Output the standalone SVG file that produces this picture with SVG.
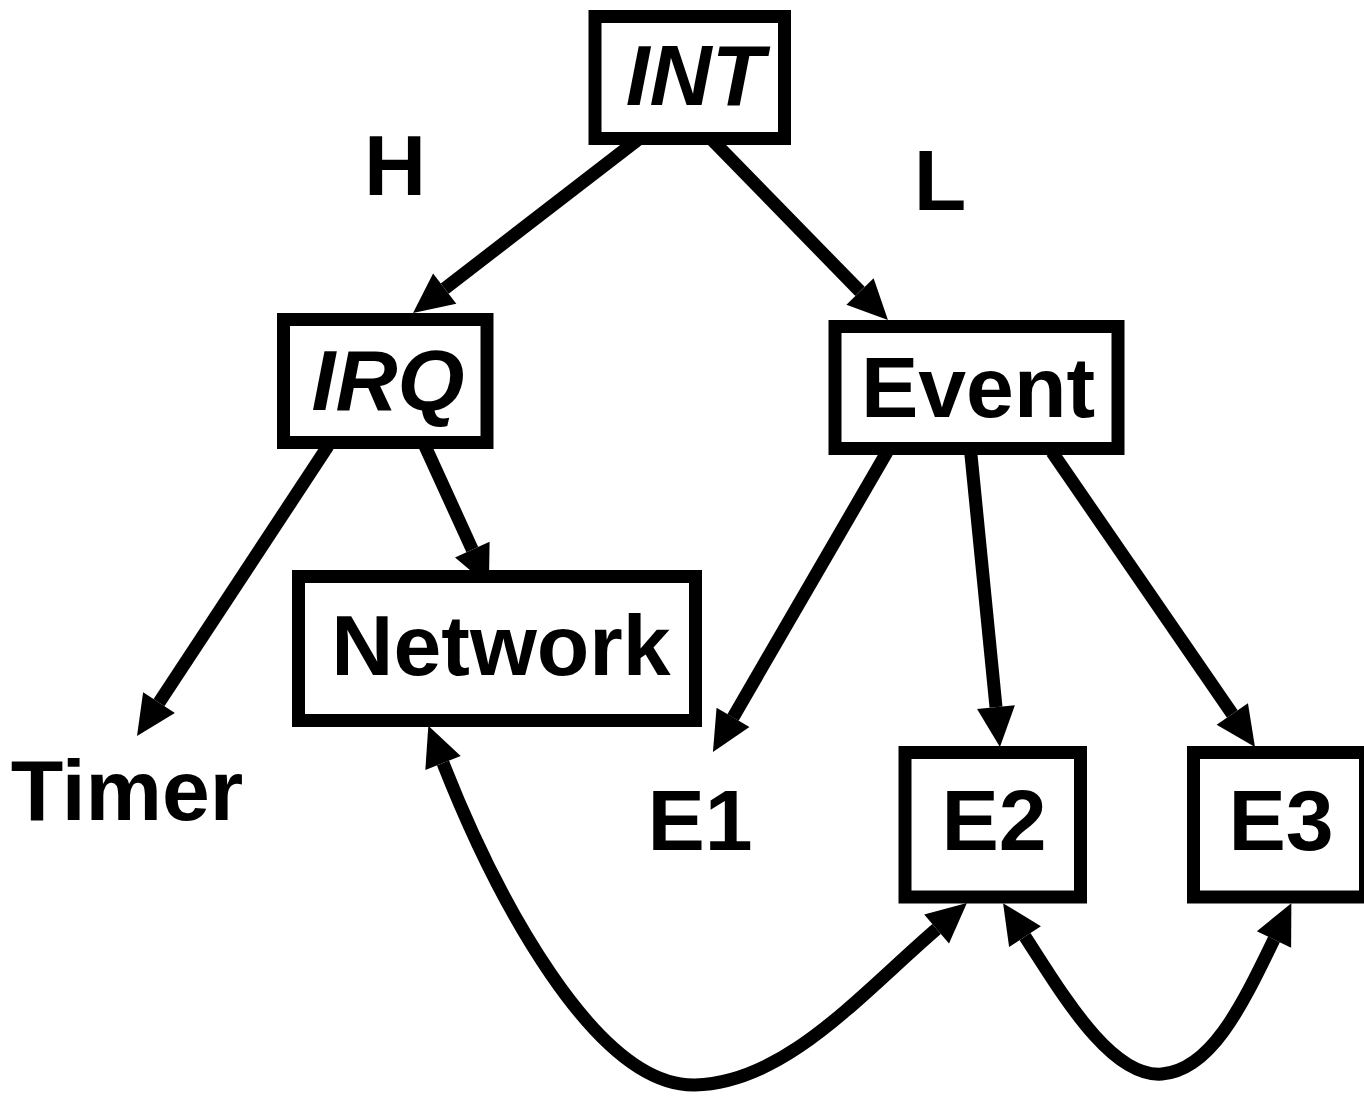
<svg xmlns="http://www.w3.org/2000/svg" width="1364" height="1097" viewBox="0 0 1364 1097">
  <defs>
    <style>
      .box { fill: #fff; stroke: #000; stroke-width: 13; }
      .lbl { font-family: "Liberation Sans", Arial, sans-serif; font-weight: bold; font-size: 86px; fill: #000; text-anchor: middle; }
      .it { font-style: italic; }
      .edge { fill: none; stroke: #000; stroke-width: 13; marker-end: url(#ah); }
      .both { marker-start: url(#ah); }
    </style>
    <marker id="ah" markerUnits="userSpaceOnUse" markerWidth="42" markerHeight="40" refX="0" refY="19" orient="auto-start-reverse" overflow="visible">
      <path d="M0,0 L40,19 L0,38 Z" fill="#000"/>
    </marker>
  </defs>
  <rect width="1364" height="1097" fill="#fff"/>

  <g id="connectors">
    <path class="edge" d="M637.4,140 L444.7,288.6"/>
    <path class="edge" d="M712.2,140 L860,291.4"/>
    <path class="edge" d="M328,446 L159,702.6"/>
    <path class="edge" d="M425,446 L472.3,549.6"/>
    <path class="edge" d="M887,452 L733,717.4"/>
    <path class="edge" d="M970.7,452 L996,707.2"/>
    <path class="edge" d="M1052,452 L1232.3,714"/>
    <path class="edge both" d="M443,763 C495,895 595,1087 695,1085 C785,1083 860,995 936.6,929"/>
    <path class="edge both" d="M1025,936.6 C1060,990 1110,1078 1162,1074 C1210,1070 1240,1010 1274,939.4"/>
  </g>

  <g id="node-INT">
    <rect class="box" x="595" y="16.5" width="189.5" height="122"/>
    <text class="lbl it" x="695" y="105">INT</text>
  </g>
  <g id="label-H">
    <text class="lbl" x="395" y="195">H</text>
  </g>
  <g id="label-L">
    <text class="lbl" x="940" y="210">L</text>
  </g>
  <g id="node-IRQ">
    <rect class="box" x="283.5" y="319.5" width="203.5" height="123"/>
    <text class="lbl it" x="388" y="410">IRQ</text>
  </g>
  <g id="node-Event">
    <rect class="box" x="835" y="326.5" width="283" height="122"/>
    <text class="lbl" x="978" y="417">Event</text>
  </g>
  <g id="node-Timer">
    <text class="lbl" x="127" y="820">Timer</text>
  </g>
  <g id="node-Network">
    <rect class="box" x="298.5" y="576.5" width="397" height="144"/>
    <text class="lbl" x="501" y="675">Network</text>
  </g>
  <g id="node-E1">
    <text class="lbl" x="700" y="850">E1</text>
  </g>
  <g id="node-E2">
    <rect class="box" x="905" y="752.5" width="175.5" height="144.5"/>
    <text class="lbl" x="994" y="850">E2</text>
  </g>
  <g id="node-E3">
    <rect class="box" x="1193.5" y="752.5" width="172" height="144.5"/>
    <text class="lbl" x="1281" y="850">E3</text>
  </g>
</svg>
